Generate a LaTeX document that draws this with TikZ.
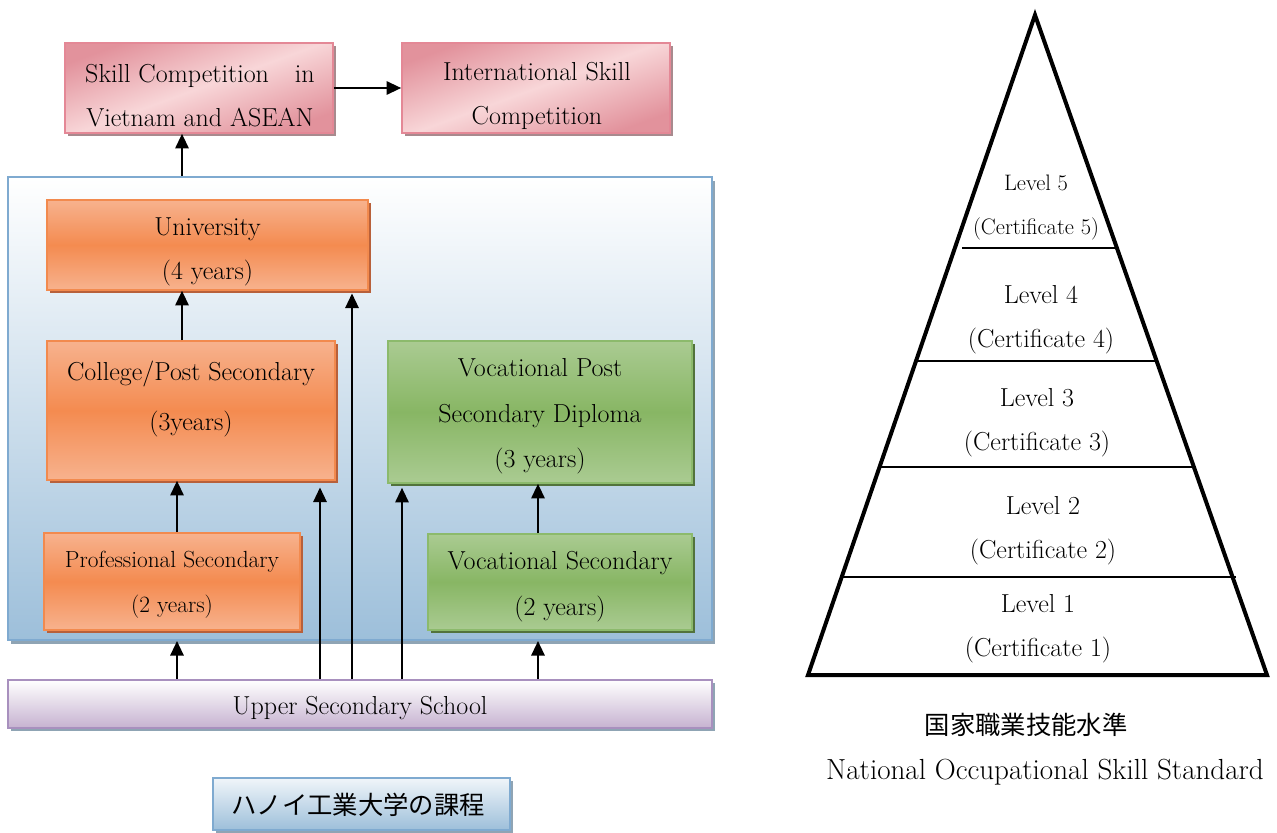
\documentclass[tikz,border=0pt]{standalone}
\usepackage{fontspec}
\newfontfamily\jpfont{Noto Sans CJK JP}
\usetikzlibrary{shadows,arrows.meta}

\definecolor{pkD}{HTML}{E2929C}
\definecolor{pkL}{HTML}{F8D6D8}
\definecolor{pkB}{HTML}{E48896}
\definecolor{pkS}{HTML}{A88A8E}
\definecolor{orL}{HTML}{F7B28E}
\definecolor{orD}{HTML}{F48B50}
\definecolor{orB}{HTML}{F28A4E}
\definecolor{orS}{HTML}{B8603A}
\definecolor{grL}{HTML}{AACB92}
\definecolor{grD}{HTML}{88B664}
\definecolor{grB}{HTML}{8CBA6C}
\definecolor{grS}{HTML}{52733C}
\definecolor{blT}{HTML}{FFFFFF}
\definecolor{blD}{HTML}{9DBFDA}
\definecolor{blB}{HTML}{7FAAD0}
\definecolor{puD}{HTML}{C6B2D0}
\definecolor{puB}{HTML}{A890BE}
\definecolor{shG}{HTML}{8FA4B4}

\begin{document}
\begin{tikzpicture}[x=0.75pt,y=-0.75pt,
  % box size given in pixels of the 1277x832 canvas
  sz/.style 2 args={minimum width=#1*0.75pt,minimum height=#2*0.75pt,inner sep=0pt},
  txt/.style={align=center,font=\fontsize{19.5}{33}\selectfont},
  pinkbox/.style={draw=pkB,line width=1.2pt,
    left color=pkD,right color=pkD,middle color=pkL,shading angle=20,
    drop shadow={shadow xshift=2.2pt,shadow yshift=-2.2pt,fill=pkS,opacity=1}},
  orbox/.style={draw=orB,line width=1.2pt,
    top color=orL,bottom color=orL,middle color=orD,
    drop shadow={shadow xshift=2.2pt,shadow yshift=-2.2pt,fill=orS,opacity=1}},
  grbox/.style={draw=grB,line width=1.2pt,
    top color=grL,bottom color=grL,middle color=grD,
    drop shadow={shadow xshift=2.2pt,shadow yshift=-2.2pt,fill=grS,opacity=1}},
  frame/.style={draw=blB,line width=1.5pt,
    top color=blT,bottom color=blD,
    drop shadow={shadow xshift=2pt,shadow yshift=-3pt,fill=shG,opacity=1}},
  arr/.style={line width=1.6pt,-{Triangle[length=11pt,width=10pt]}},
  pyr/.style={line width=3pt,line join=miter},
  rung/.style={line width=2pt},
]
\useasboundingbox (0,0) rectangle (1277,832);

% competitions
\node[pinkbox,sz={268}{90}] (sk1) at (199,88) {};
\node[txt] (sk1t) at (200,96) {Skill Competition\quad in\\Vietnam and ASEAN};
\node[pinkbox,sz={268}{90}] (sk2) at (536,88) {};
\node[txt] (sk2t) at (537,96) {International Skill\\Competition};

% education path
\node[frame,sz={704}{463}] (cont) at (360,408.5) {};
\node[orbox,sz={321}{90}] (univ) at (207.5,245) {};
\node[txt] (univt) at (207.5,252) {University\\(4 years)};
\node[orbox,sz={288}{139}] (coll) at (191,410.5) {};
\node[txt,font=\fontsize{19.5}{37.5}\selectfont] (collt) at (191,399) {College/Post Secondary\\(3years)};
\node[grbox,sz={304}{142}] (vpost) at (540,412) {};
\node[txt,font=\fontsize{19.5}{34}\selectfont] (vpostt) at (540,416.5) {Vocational Post\\Secondary Diploma\\(3 years)};
\node[orbox,sz={256}{97}] (prof) at (172,581.5) {};
\node[txt,font=\fontsize{17.5}{34}\selectfont] (proft) at (172,585) {Professional Secondary\\(2 years)};
\node[grbox,sz={264}{96}] (vsec) at (560,582) {};
\node[txt,font=\fontsize{19.5}{34}\selectfont] (vsect) at (560,586.5) {Vocational Secondary\\(2 years)};
\node[draw=puB,line width=1.5pt,top color=white,bottom color=puD,
  drop shadow={shadow xshift=2pt,shadow yshift=-2.5pt,fill=shG,opacity=1},
  sz={704}{48}] (upper) at (360,704) {};
\node[txt] (uppert) at (360,708) {Upper Secondary School};
\node[draw=blB,line width=1.5pt,top color=blT!85!blD,bottom color=blD,
  drop shadow={shadow xshift=2pt,shadow yshift=-2.5pt,fill=shG,opacity=1},
  sz={297}{52},font=\jpfont\fontsize{19}{22}\selectfont] (hanoi) at (361.5,804) {};
\node[font=\jpfont\fontsize{19}{22}\selectfont] (hanoit) at (358,805) {ハノイ工業大学の課程};

% arrow columns
\coordinate (c177) at (177,0);
\coordinate (c182) at (182,0);
\coordinate (c320) at (320,0);
\coordinate (c352) at (352,0);
\coordinate (c402) at (402,0);
\coordinate (c538) at (538,0);

\draw[arr] (sk1.east) -- (sk2.west);
\draw[arr] (cont.north -| c182) -- (sk1.south -| c182);
\draw[arr] (coll.north -| c182) -- (univ.south -| c182);
\draw[arr] (prof.north -| c177) -- (coll.south -| c177);
\draw[arr] (vsec.north -| c538) -- (vpost.south -| c538);
\draw[arr] (upper.north -| c177) -- (cont.south -| c177);
\draw[arr] (upper.north -| c538) -- (cont.south -| c538);
\draw[arr] (upper.north -| c320) -- ([yshift=-5pt]coll.south -| c320);
\draw[arr] (upper.north -| c352) -- ([yshift=-2pt]univ.south -| c352);
\draw[arr] (upper.north -| c402) -- ([yshift=-3pt]vpost.south -| c402);

% skill standard pyramid
\coordinate (apex) at (1035,15);
\coordinate (bl) at (808,675);
\coordinate (br) at (1267,675);
\draw[pyr] (apex) -- (br) -- (bl) -- cycle;
\draw[rung] (962,248) -- (1118,248);
\draw[rung] (918,361) -- (1156,361);
\draw[rung] (880,467) -- (1193,467);
\draw[rung] (843,577) -- (1236,577);

\node[txt,font=\fontsize{16.8}{33}\selectfont] (l5) at (1036,208) {Level 5\\(Certificate 5)};
\node[txt] (l4) at (1041,320) {Level 4\\(Certificate 4)};
\node[txt] (l3) at (1037,423) {Level 3\\(Certificate 3)};
\node[txt] (l2) at (1043,531) {Level 2\\(Certificate 2)};
\node[txt] (l1) at (1038,629) {Level 1\\(Certificate 1)};

\node[font=\jpfont\fontsize{19}{22}\selectfont] (jpcap) at (1026,725) {国家職業技能水準};
\node[font=\fontsize{21.8}{24}\selectfont] (encap) at (1045,772) {National Occupational Skill Standard};
\end{tikzpicture}
\end{document}
